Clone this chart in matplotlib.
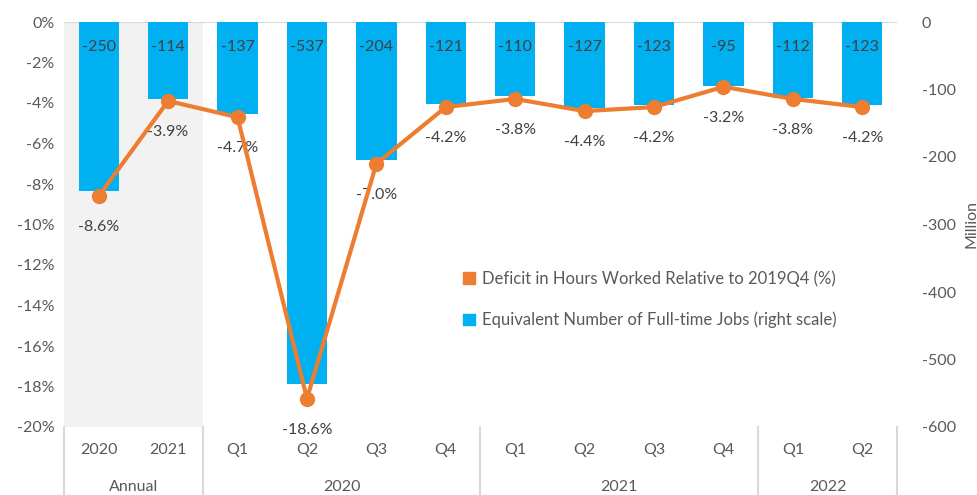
import matplotlib
matplotlib.use("Agg")
import matplotlib.pyplot as plt
from matplotlib.patches import Patch
from matplotlib.lines import Line2D

plt.rcParams['font.family'] = ['Lato', 'DejaVu Sans']

categories = ["2020", "2021", "Q1", "Q2", "Q3", "Q4", "Q1", "Q2", "Q3", "Q4", "Q1", "Q2"]
groups = ["Annual", "2020", "2021", "2022"]
group_bounds = [(-0.5, 1.5), (1.5, 5.5), (5.5, 9.5), (9.5, 11.5)]
hours_deficit = [-8.6, -3.9, -4.7, -18.6, -7.0, -4.2, -3.8, -4.4, -4.2, -3.2, -3.8, -4.2]
jobs_million = [-250, -114, -137, -537, -204, -121, -110, -127, -123, -95, -112, -123]

BLUE = "#00B0F0"
ORANGE = "#ED7D31"
TICK = "#595959"
LAB = "#404040"
GRID = "#D9D9D9"

fig = plt.figure(figsize=(9.77, 4.95), dpi=100)
ax = fig.add_axes([64/977, 1-427/495, (897-64)/977, (427-22)/495])
ax2 = ax.twinx()

x = list(range(len(categories)))

# shading for annual block
ax2.axvspan(-0.5, 1.5, color="#F2F2F2", zorder=0, lw=0)
bars = ax2.bar(x, jobs_million, width=0.58, color=BLUE, zorder=2)
for xi, v in zip(x, jobs_million):
    ax2.annotate(f"{v}", (xi, 0), xytext=(0, -18), textcoords="offset points",
                 ha="center", va="center", fontsize=11.5, color=LAB, zorder=3)
ax2.set_ylim(-600, 0)
ax2.set_yticks([0, -100, -200, -300, -400, -500, -600])
ax2.set_yticklabels(["0", "-100", "-200", "-300", "-400", "-500", "-600"])
ax2.tick_params(axis="y", length=0, pad=18, labelsize=11.5, labelcolor=TICK)
ax2.set_ylabel("Million", fontsize=11.5, color=TICK, labelpad=6)
ax2.axhline(0, color=GRID, lw=1.5, zorder=1)

ax.set_zorder(ax2.get_zorder() + 1)
ax.patch.set_visible(False)
ax.plot(x, hours_deficit, color=ORANGE, lw=3, marker="o", markersize=10, zorder=4)
for xi, v in zip(x, hours_deficit):
    ax.annotate(f"{v:.1f}%", (xi, v), xytext=(0, -22.5), textcoords="offset points",
                ha="center", va="center", fontsize=11.5, color=LAB)
ax.set_ylim(-20, 0)
ax.set_yticks(range(0, -21, -2))
ax.set_yticklabels([f"{t}%" for t in range(0, -21, -2)])
ax.tick_params(axis="y", length=0, pad=7, labelsize=11.5, labelcolor=TICK)
ax.set_xlim(-0.5, len(categories) - 0.5)
ax.set_xticks([])

for a in (ax, ax2):
    for s in a.spines.values():
        s.set_visible(False)

trans = ax.get_xaxis_transform()
ax_h = 427 - 22
for xi, c in zip(x, categories):
    ax.text(xi, -(450 - 427) / ax_h, c, transform=trans, ha="center", va="center",
            fontsize=11.5, color=TICK, clip_on=False)
for g, (a0, a1) in zip(groups, group_bounds):
    ax.text((a0 + a1) / 2, -(487 - 427) / ax_h, g, transform=trans, ha="center", va="center",
            fontsize=11.5, color=TICK, clip_on=False)
for b in [-0.5, 1.5, 5.5, 9.5, 11.5]:
    ax.add_line(Line2D([b, b], [0, -(495 - 427) / ax_h], transform=trans, color=GRID,
                       lw=1.5, clip_on=False))

handles = [Patch(color=ORANGE, label="Deficit in Hours Worked Relative to 2019Q4 (%)"),
           Patch(color=BLUE, label="Equivalent Number of Full-time Jobs (right scale)")]
fig.legend(handles=handles, loc="upper left", bbox_to_anchor=(455/977, 1 - 262/495),
           frameon=False, fontsize=12, handlelength=0.7, handleheight=0.7,
           handletextpad=0.4, labelspacing=1.5, borderpad=0, labelcolor=TICK)

fig.savefig("out.png", dpi=100)
